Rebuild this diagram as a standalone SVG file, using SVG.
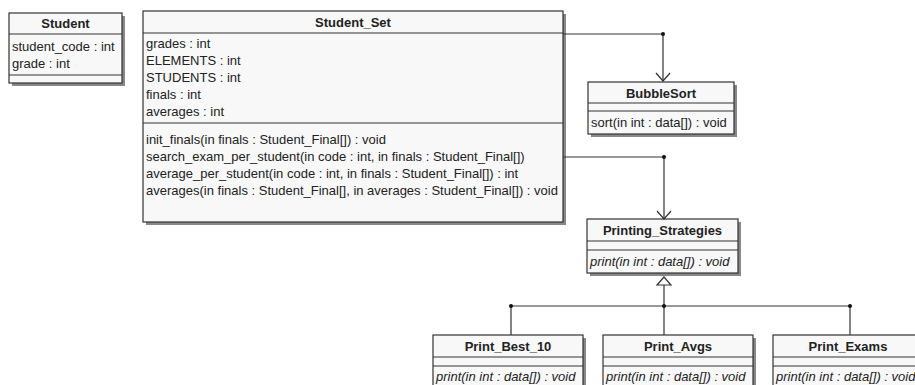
<svg xmlns="http://www.w3.org/2000/svg" width="915" height="385" viewBox="0 0 915 385">
<style>
.box{fill:#f8f8f8;stroke:#333;stroke-width:1.2}
.sh{fill:#888}
.ln{stroke:#333;stroke-width:1.2;fill:none}
text{font-family:"Liberation Sans",Arial,sans-serif;font-size:13px;fill:#222}
.t{font-weight:bold;text-anchor:middle}
.i{font-style:italic}
</style>
<rect width="915" height="385" fill="#fff"/>
<g id="Student">
<rect class="sh" x="12" y="16" width="113" height="70"/>
<rect class="box" x="9" y="13" width="113" height="70"/>
<line class="ln" x1="9" y1="34" x2="122" y2="34"/>
<line class="ln" x1="9" y1="75" x2="122" y2="75"/>
<text class="t" x="65.5" y="28">Student</text>
<text x="12" y="51">student_code : int</text>
<text x="12" y="68">grade : int</text>
</g>
<g id="Student_Set">
<rect class="sh" x="146" y="14" width="420" height="211"/>
<rect class="box" x="143" y="11" width="420" height="211"/>
<line class="ln" x1="143" y1="33" x2="563" y2="33"/>
<line class="ln" x1="143" y1="123" x2="563" y2="123"/>
<text class="t" x="353" y="27">Student_Set</text>
<text x="146" y="48">grades : int</text>
<text x="146" y="65">ELEMENTS : int</text>
<text x="146" y="82">STUDENTS : int</text>
<text x="146" y="99">finals : int</text>
<text x="146" y="116">averages : int</text>
<text x="146" y="144">init_finals(in finals : Student_Final[]) : void</text>
<text x="146" y="161">search_exam_per_student(in code : int, in finals : Student_Final[])</text>
<text x="146" y="178">average_per_student(in code : int, in finals : Student_Final[]) : int</text>
<text x="146" y="195">averages(in finals : Student_Final[], in averages : Student_Final[]) : void</text>
</g>
<g id="BubbleSort">
<rect class="sh" x="591" y="85" width="146" height="52"/>
<rect class="box" x="588" y="82" width="146" height="52"/>
<line class="ln" x1="588" y1="103" x2="734" y2="103"/>
<line class="ln" x1="588" y1="111" x2="734" y2="111"/>
<text class="t" x="661" y="98">BubbleSort</text>
<text x="591" y="127">sort(in int : data[]) : void</text>
</g>
<g id="Printing_Strategies">
<rect class="sh" x="590" y="222" width="151" height="54"/>
<rect class="box" x="587" y="219" width="151" height="54"/>
<line class="ln" x1="587" y1="241" x2="738" y2="241"/>
<line class="ln" x1="587" y1="250" x2="738" y2="250"/>
<text class="t" x="662.5" y="235">Printing_Strategies</text>
<text class="i" x="590" y="266">print(in int : data[]) : void</text>
</g>
<g id="Print_Best_10">
<rect class="sh" x="436" y="338" width="150" height="60"/>
<rect class="box" x="433" y="335" width="150" height="60"/>
<line class="ln" x1="433" y1="357" x2="583" y2="357"/>
<line class="ln" x1="433" y1="366" x2="583" y2="366"/>
<text class="t" x="508" y="351">Print_Best_10</text>
<text class="i" x="436" y="381">print(in int : data[]) : void</text>
</g>
<g id="Print_Avgs">
<rect class="sh" x="606" y="338" width="150" height="60"/>
<rect class="box" x="603" y="335" width="150" height="60"/>
<line class="ln" x1="603" y1="357" x2="753" y2="357"/>
<line class="ln" x1="603" y1="366" x2="753" y2="366"/>
<text class="t" x="678" y="351">Print_Avgs</text>
<text class="i" x="606" y="381">print(in int : data[]) : void</text>
</g>
<g id="Print_Exams">
<rect class="sh" x="776" y="338" width="150" height="60"/>
<rect class="box" x="773" y="335" width="150" height="60"/>
<line class="ln" x1="773" y1="357" x2="923" y2="357"/>
<line class="ln" x1="773" y1="366" x2="923" y2="366"/>
<text class="t" x="848" y="351">Print_Exams</text>
<text class="i" x="776" y="381">print(in int : data[]) : void</text>
</g>
<g id="connectors">
<path class="ln" d="M563,34 H663 V81"/>
<path class="ln" d="M656,73 L663,81 L670,73"/>
<circle cx="663" cy="34" r="2" fill="#111"/>
<path class="ln" d="M563,157 H664 V219"/>
<path class="ln" d="M657,211 L664,219 L671,211"/>
<circle cx="664" cy="157" r="2" fill="#111"/>
<path d="M664,277 L657,285 L671,285 Z" fill="#fff" stroke="#333" stroke-width="1.2"/>
<path class="ln" d="M664,285 V335 M511,306 H850 M511,306 V335 M850,306 V335"/>
<circle cx="511" cy="306" r="2" fill="#111"/>
<circle cx="664" cy="306" r="2" fill="#111"/>
<circle cx="850" cy="306" r="2" fill="#111"/>
</g>
</svg>
